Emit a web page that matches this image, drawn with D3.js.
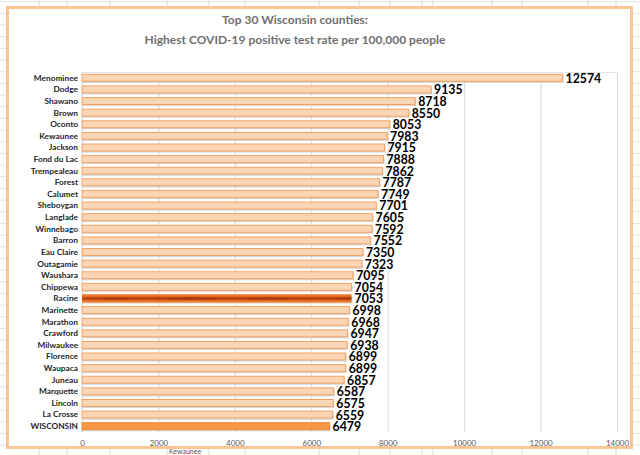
<!DOCTYPE html>
<html>
<head>
<meta charset="utf-8">
<script src="https://cdn.jsdelivr.net/npm/d3@7"></script>
<style>
  html, body { margin: 0; padding: 0; background: #fff; }
  svg { display: block; }
</style>
</head>
<body>
<svg id="chart" width="640" height="455"></svg>
<script>
// ---------- Data ----------
const counties = [
  'Menominee', 'Dodge', 'Shawano', 'Brown', 'Oconto', 'Kewaunee', 'Jackson',
  'Fond du Lac', 'Trempealeau', 'Forest', 'Calumet', 'Sheboygan', 'Langlade',
  'Winnebago', 'Barron', 'Eau Claire', 'Outagamie', 'Waushara', 'Chippewa',
  'Racine', 'Marinette', 'Marathon', 'Crawford', 'Milwaukee', 'Florence',
  'Waupaca', 'Juneau', 'Marquette', 'Lincoln', 'La Crosse', 'WISCONSIN'
];
const rates = [
  12574, 9135, 8718, 8550, 8053, 7983, 7915,
  7888, 7862, 7787, 7749, 7701, 7605,
  7592, 7552, 7350, 7323, 7095, 7054,
  7053, 6998, 6968, 6947, 6938, 6899,
  6899, 6857, 6587, 6575, 6559, 6479
];
const xTicks = [0, 2000, 4000, 6000, 8000, 10000, 12000, 14000];
const titleLines = ['Top 30 Wisconsin counties:', 'Highest COVID-19 positive test rate per 100,000 people'];

const rows = counties.map((name, i) => ({ name, value: rates[i] }));

// ---------- Setup ----------
const W = 640, H = 455;
const svg = d3.select('#chart');
const defs = svg.append('defs');

// spreadsheet backdrop behind the chart frame
const sheet = svg.append('g').attr('class', 'sheet');
const sheetCols = [39, 67, 110, 167, 209, 245, 319, 359, 390, 422, 433, 492, 522, 588, 616];
sheet.selectAll('line.col')
  .data(sheetCols)
  .join('line')
  .attr('x1', d => d).attr('x2', d => d)
  .attr('y1', 0).attr('y2', H)
  .attr('stroke', '#dadada').attr('stroke-width', 1);
sheet.selectAll('line.row')
  .data(d3.range(1.7, H, 11.67))
  .join('line')
  .attr('x1', 0).attr('x2', W)
  .attr('y1', d => d).attr('y2', d => d)
  .attr('stroke', '#e2e2e2').attr('stroke-width', 1);
sheet.append('text')
  .attr('x', 169).attr('y', 454)
  .attr('font-family', 'Lato, sans-serif')
  .attr('font-size', 7)
  .attr('fill', '#555')
  .text('Kewaunee');

// chart frame
svg.append('rect')
  .attr('x', 7.5).attr('y', 7.5)
  .attr('width', 624).attr('height', 440)
  .attr('fill', '#fff')
  .attr('stroke', '#fbc595')
  .attr('stroke-width', 3);

// ---------- Title ----------
svg.append('g')
  .selectAll('text')
  .data(titleLines)
  .join('text')
  .attr('x', 295)
  .attr('y', (d, i) => 24 + i * 20)
  .attr('text-anchor', 'middle')
  .attr('font-family', 'Lato, sans-serif')
  .attr('font-weight', 700)
  .attr('font-size', 12)
  .attr('fill', '#6f6f6f')
  .text(d => d);

// ---------- Scales ----------
const x = d3.scaleLinear().domain([0, 14000]).range([82, 617]);
const y = d3.scaleBand().domain(counties).range([72, 432]).paddingInner(0.4).paddingOuter(0.2);

// plot area gridlines
const grid = svg.append('g').attr('class', 'grid');
grid.selectAll('line')
  .data(xTicks)
  .join('line')
  .attr('x1', d => x(d) + 0.5).attr('x2', d => x(d) + 0.5)
  .attr('y1', 72).attr('y2', 432)
  .attr('stroke', '#d9d9d9');
grid.append('line')
  .attr('x1', x(0)).attr('x2', x(14000))
  .attr('y1', 72.5).attr('y2', 72.5)
  .attr('stroke', '#e3e3e3');

// ---------- Axis ----------
const xAxis = svg.append('g')
  .attr('transform', 'translate(0,434)')
  .call(d3.axisBottom(x).tickValues(xTicks).tickSize(0).tickPadding(6).tickFormat(d3.format('d')));
xAxis.select('.domain').remove();
xAxis.selectAll('text')
  .attr('font-family', 'Lato, sans-serif')
  .attr('font-size', 8)
  .attr('fill', '#595959');

// ---------- Racine texture ----------
const fire = defs.append('linearGradient')
  .attr('id', 'fire').attr('x1', 0).attr('y1', 0).attr('x2', 0).attr('y2', 1);
[['0%', '#f49a4c'], ['30%', '#e2661f'], ['50%', '#b8400e'], ['70%', '#df5e1c'], ['100%', '#f4a258']]
  .forEach(([o, c]) => fire.append('stop').attr('offset', o).attr('stop-color', c));
const streaks = defs.append('linearGradient')
  .attr('id', 'streaks').attr('x1', 0).attr('y1', 0).attr('x2', 1).attr('y2', 0);
[['0%', 0.0], ['12%', 0.35], ['25%', 0.05], ['40%', 0.45], ['55%', 0.1], ['70%', 0.4], ['85%', 0.05], ['100%', 0.3]]
  .forEach(([o, a]) => streaks.append('stop').attr('offset', o).attr('stop-color', '#8a2304').attr('stop-opacity', a));

// ---------- Bars ----------
const bars = svg.append('g').attr('class', 'bars');
const isState = d => d.name === 'WISCONSIN';
const isRacine = d => d.name === 'Racine';

// soft shadows
bars.selectAll('rect.shadow')
  .data(rows)
  .join('rect')
  .attr('class', 'shadow')
  .attr('x', x(0))
  .attr('y', d => y(d.name) + 1.6)
  .attr('width', d => x(d.value) - x(0) + 1)
  .attr('height', y.bandwidth())
  .attr('fill', '#a8a8a8')
  .attr('opacity', 0.45);

bars.selectAll('rect.bar')
  .data(rows)
  .join('rect')
  .attr('class', 'bar')
  .attr('x', x(0))
  .attr('y', d => isRacine(d) ? y(d.name) - 1 : y(d.name))
  .attr('width', d => x(d.value) - x(0))
  .attr('height', d => isRacine(d) ? y.bandwidth() + 2 : y.bandwidth())
  .attr('fill', d => isRacine(d) ? 'url(#fire)' : isState(d) ? '#f79646' : '#fcd5b4')
  .attr('stroke', d => isRacine(d) ? 'none' : isState(d) ? '#f38a33' : '#f4a266')
  .attr('stroke-width', 1);

bars.selectAll('rect.streak')
  .data(rows.filter(isRacine))
  .join('rect')
  .attr('x', x(0))
  .attr('y', d => y(d.name) + y.bandwidth() * 0.3)
  .attr('width', d => x(d.value) - x(0))
  .attr('height', y.bandwidth() * 0.4)
  .attr('fill', 'url(#streaks)');

// ---------- Labels ----------
svg.append('g')
  .selectAll('text')
  .data(rows)
  .join('text')
  .attr('x', 78)
  .attr('y', d => y(d.name) + y.bandwidth() / 2)
  .attr('dy', '0.35em')
  .attr('text-anchor', 'end')
  .attr('font-family', 'Lato, sans-serif')
  .attr('font-weight', 700)
  .attr('font-size', 8.3)
  .attr('fill', '#262626')
  .text(d => d.name);

svg.append('g')
  .selectAll('text')
  .data(rows)
  .join('text')
  .attr('x', d => x(d.value) + 3)
  .attr('y', d => y(d.name) + y.bandwidth() / 2 + 0.5)
  .attr('dy', '0.36em')
  .attr('font-family', 'Lato, sans-serif')
  .attr('font-weight', 700)
  .attr('font-size', 12.3)
  .attr('fill', '#000')
  .text(d => d.value);
</script>
</body>
</html>
